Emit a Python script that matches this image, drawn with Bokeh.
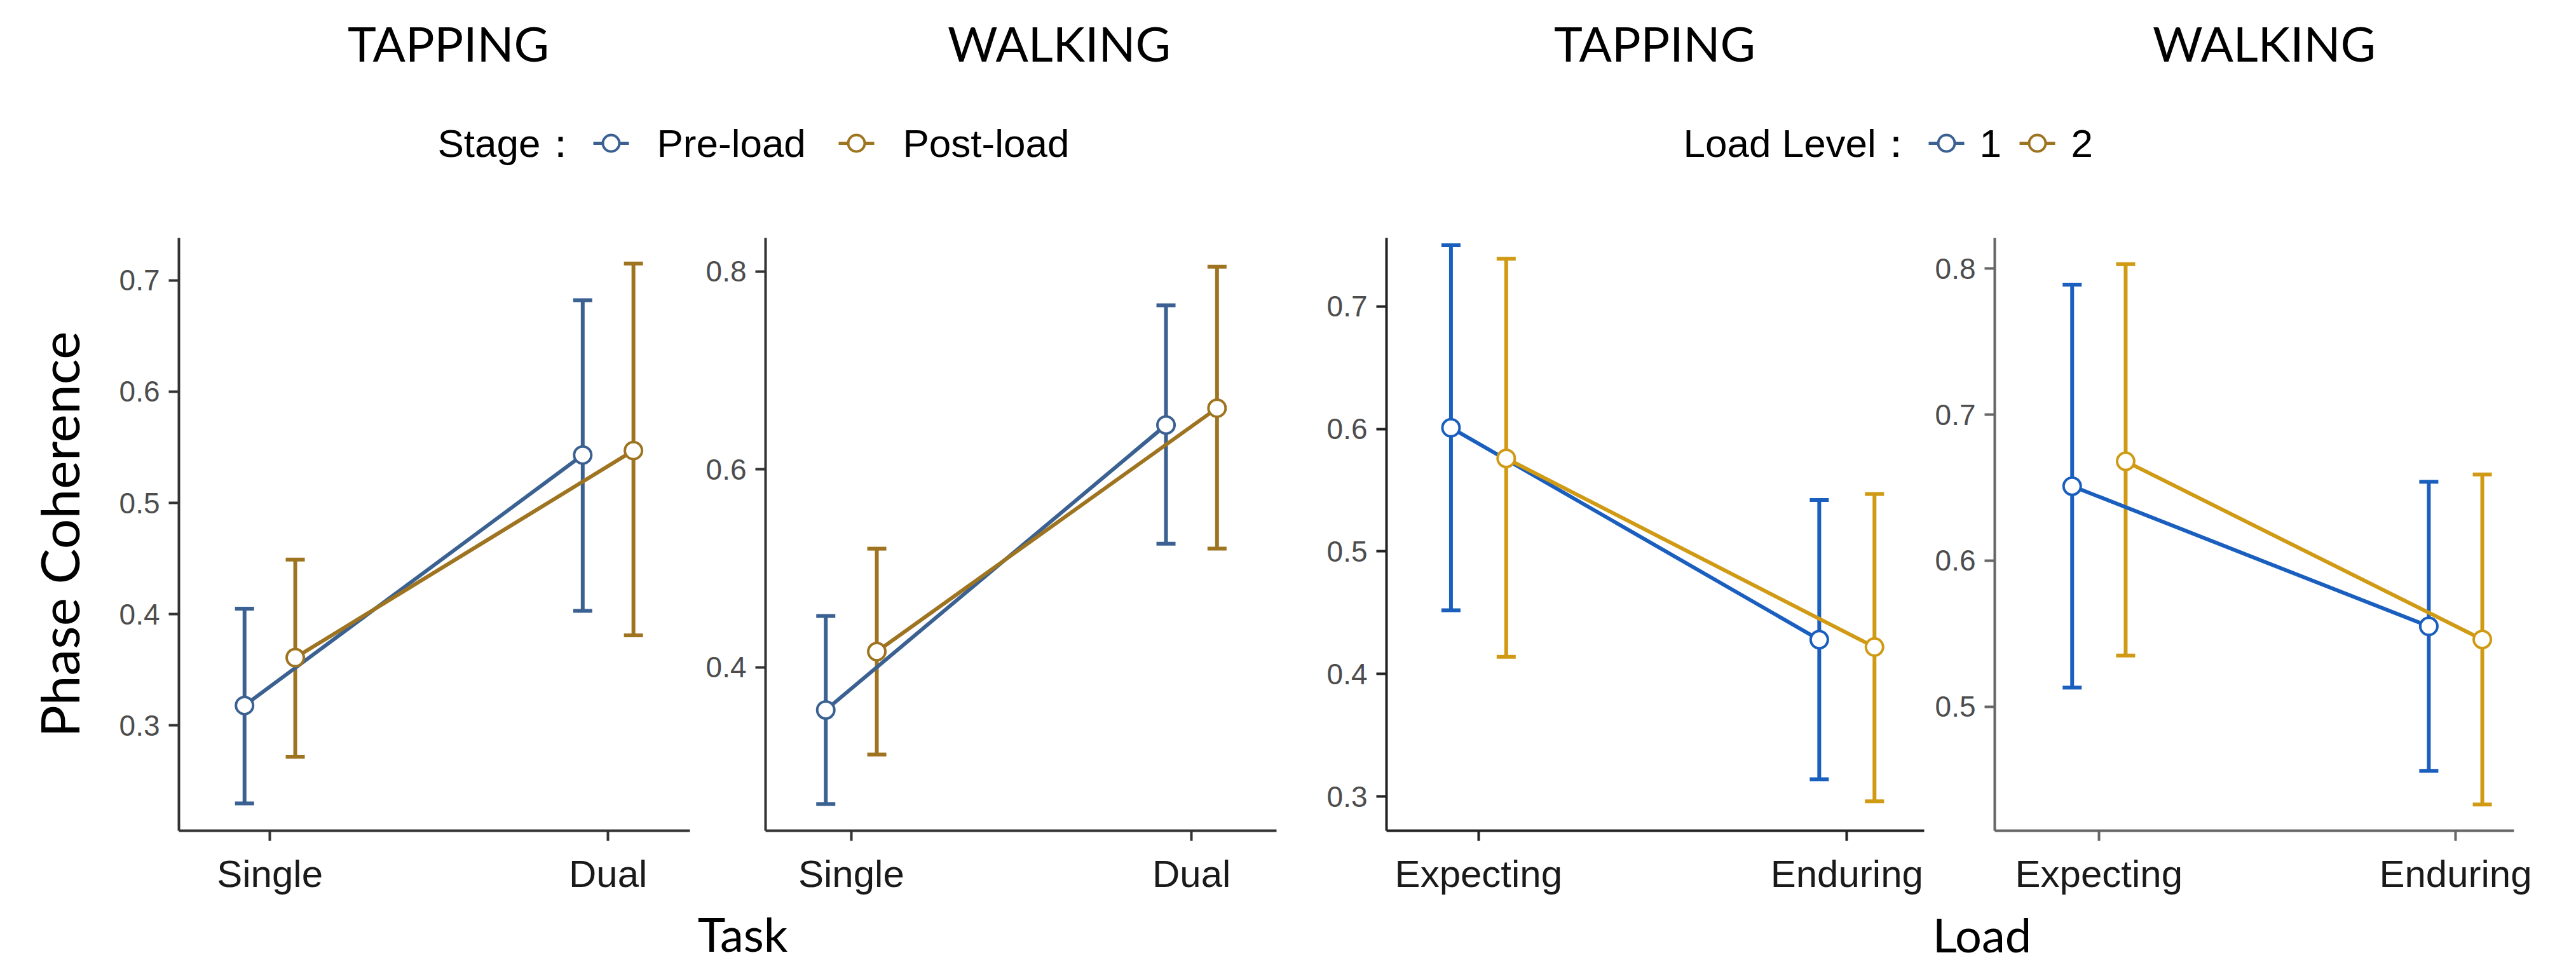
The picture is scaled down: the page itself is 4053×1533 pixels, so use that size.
from bokeh.plotting import figure
from bokeh.models import Range1d, FixedTicker, Whisker, ColumnDataSource, TeeHead, PrintfTickFormatter
from bokeh.layouts import column, row
from bokeh.embed import file_html
from bokeh.resources import INLINE
from bokeh.core.properties import value

# ---------------- data ----------------
panel_titles = ["TAPPING", "WALKING", "TAPPING", "WALKING"]
task_levels = ["Single", "Dual"]
load_levels = ["Expecting", "Enduring"]
stage_names = ["Pre-load", "Post-load"]
load_level_names = ["1", "2"]
axis_titles = ["Task", "Load"]

# Panel 1: TAPPING by Task
tap_task_pre_mean = [0.318, 0.543]
tap_task_pre_low = [0.230, 0.403]
tap_task_pre_high = [0.405, 0.682]
tap_task_post_mean = [0.361, 0.547]
tap_task_post_low = [0.272, 0.381]
tap_task_post_high = [0.449, 0.715]

# Panel 2: WALKING by Task
walk_task_pre_mean = [0.357, 0.645]
walk_task_pre_low = [0.262, 0.525]
walk_task_pre_high = [0.452, 0.766]
walk_task_post_mean = [0.416, 0.662]
walk_task_post_low = [0.312, 0.520]
walk_task_post_high = [0.520, 0.805]

# Panel 3: TAPPING by Load
tap_load_l1_mean = [0.601, 0.428]
tap_load_l1_low = [0.452, 0.314]
tap_load_l1_high = [0.750, 0.542]
tap_load_l2_mean = [0.576, 0.422]
tap_load_l2_low = [0.414, 0.296]
tap_load_l2_high = [0.739, 0.547]

# Panel 4: WALKING by Load
walk_load_l1_mean = [0.651, 0.555]
walk_load_l1_low = [0.513, 0.456]
walk_load_l1_high = [0.789, 0.654]
walk_load_l2_mean = [0.668, 0.546]
walk_load_l2_low = [0.535, 0.433]
walk_load_l2_high = [0.803, 0.659]

ticks_p1 = [0.3, 0.4, 0.5, 0.6, 0.7]
ticks_p2 = [0.4, 0.6, 0.8]
ticks_p3 = [0.3, 0.4, 0.5, 0.6, 0.7]
ticks_p4 = [0.5, 0.6, 0.7, 0.8]

# ---------------- styles ----------------
MUTED = ["#3A6191", "#9E7420"]
BRIGHT = ["#1A5FBE", "#D09A14"]
DODGE = [-0.075, 0.075]
TOP_H = 320
ROW_H = 1092
BOT_H = 105
TITLE_FONT = "Lato"
TICK_FONT = "Liberation Sans"


def make_panel(width, mb_left, mb_right, cats, series, colors, xr, yr, yticks,
               axis_color, ylabel=None):
    p = figure(width=width, height=ROW_H, x_range=Range1d(*xr), y_range=Range1d(*yr),
               toolbar_location=None, output_backend="svg",
               min_border_left=mb_left, min_border_right=mb_right,
               min_border_top=54, min_border_bottom=105)
    p.grid.visible = False
    p.outline_line_color = None
    for (mean, lo, hi), col, off in zip(series, colors, DODGE):
        xs = [i + 1 + off for i in range(len(cats))]
        src = ColumnDataSource(dict(x=xs, y=mean, lo=lo, hi=hi))
        p.add_layout(Whisker(source=src, base="x", lower="lo", upper="hi",
                             line_color=col, line_width=6,
                             upper_head=TeeHead(size=30, line_color=col, line_width=6),
                             lower_head=TeeHead(size=30, line_color=col, line_width=6)))
        p.line("x", "y", source=src, line_color=col, line_width=6)
        p.scatter("x", "y", source=src, size=27, fill_color="white",
                  line_color=col, line_width=4)
    p.xaxis.ticker = FixedTicker(ticks=[i + 1 for i in range(len(cats))])
    p.xaxis.major_label_overrides = {i + 1: c for i, c in enumerate(cats)}
    p.yaxis.ticker = FixedTicker(ticks=yticks)
    p.yaxis.formatter = PrintfTickFormatter(format="%.1f")
    p.axis.axis_line_color = axis_color
    p.axis.axis_line_width = 4
    p.axis.major_tick_line_color = axis_color
    p.axis.major_tick_line_width = 4
    p.axis.major_tick_out = 16
    p.axis.major_tick_in = 0
    p.axis.minor_tick_out = 0
    p.axis.minor_tick_in = 0
    p.yaxis.major_label_text_font = TICK_FONT
    p.yaxis.major_label_text_font_size = "46px"
    p.yaxis.major_label_text_color = "#4D4D4D"
    p.yaxis.major_label_standoff = 14
    p.xaxis.major_label_text_font = TICK_FONT
    p.xaxis.major_label_text_font_size = "60px"
    p.xaxis.major_label_text_color = "#1A1A1A"
    p.xaxis.major_label_standoff = 18
    if ylabel:
        p.yaxis.axis_label = ylabel
        p.yaxis.axis_label_text_font = TITLE_FONT
        p.yaxis.axis_label_text_font_size = "84px"
        p.yaxis.axis_label_text_font_style = "normal"
        p.yaxis.axis_label_text_color = "black"
        p.yaxis.axis_label_standoff = 42
    return p


p1 = make_panel(1097, 281, 12, task_levels,
                [(tap_task_pre_mean, tap_task_pre_low, tap_task_pre_high),
                 (tap_task_post_mean, tap_task_post_low, tap_task_post_high)],
                MUTED, (0.731, 2.242), (0.2055, 0.738), ticks_p1, "#333333",
                ylabel="Phase Coherence")
p2 = make_panel(945, 107, 34, task_levels,
                [(walk_task_pre_mean, walk_task_pre_low, walk_task_pre_high),
                 (walk_task_post_mean, walk_task_post_low, walk_task_post_high)],
                MUTED, (0.748, 2.25), (0.235, 0.834), ticks_p2, "#333333")
p3 = make_panel(995, 139, 10, load_levels,
                [(tap_load_l1_mean, tap_load_l1_low, tap_load_l1_high),
                 (tap_load_l2_mean, tap_load_l2_low, tap_load_l2_high)],
                BRIGHT, (0.75, 2.21), (0.272, 0.756), ticks_p3, "#222222")
p4 = make_panel(1000, 101, 82, load_levels,
                [(walk_load_l1_mean, walk_load_l1_low, walk_load_l1_high),
                 (walk_load_l2_mean, walk_load_l2_low, walk_load_l2_high)],
                BRIGHT, (0.708, 2.164), (0.415, 0.821), ticks_p4, "#666666")

W = 1097 + 945 + 995 + 1000

# ---------------- header: titles and legends ----------------
top = figure(width=W, height=TOP_H, x_range=Range1d(8, 8 + W),
             y_range=Range1d(8 + TOP_H, 8),
             toolbar_location=None, output_backend="svg", min_border=0,
             x_axis_location=None, y_axis_location=None)
top.grid.visible = False
top.outline_line_color = None

title_x = [713, 1674, 2611, 3570]
top.text(x=title_x, y=[75] * 4, text=panel_titles, text_align="center",
         text_baseline="middle", text_font=value(TITLE_FONT),
         text_font_size=value("76px"), text_color="black")


def draw_legend(fig, label, label_x, names, colors, marker_x, text_x, y):
    n = len(names)
    fig.text(x=[label_x], y=[y], text=[label], text_align="left", text_baseline="middle",
             text_font=value(TICK_FONT), text_font_size=value("62px"), text_color="black")
    fig.segment(x0=[m - 28 for m in marker_x], y0=[y] * n, x1=[m + 28 for m in marker_x],
                y1=[y] * n, line_color=colors, line_width=5)
    fig.scatter(x=marker_x, y=[y] * n, size=26, fill_color="white", line_color=colors,
                line_width=4)
    fig.text(x=text_x, y=[y] * n, text=names, text_align="left", text_baseline="middle",
             text_font=value(TICK_FONT), text_font_size=value("62px"), text_color="black")


draw_legend(top, "Stage\uff1a", 696, stage_names, MUTED, [969, 1355], [1041, 1428], 233)
draw_legend(top, "Load Level\uff1a", 2656, load_level_names, MUTED, [3070, 3213],
            [3122, 3266], 233)

# ---------------- footer: shared axis titles ----------------
bot_top = 8 + TOP_H + ROW_H
bottom = figure(width=W, height=BOT_H, x_range=Range1d(8, 8 + W),
                y_range=Range1d(bot_top + BOT_H, bot_top),
                toolbar_location=None, output_backend="svg", min_border=0,
                x_axis_location=None, y_axis_location=None)
bottom.grid.visible = False
bottom.outline_line_color = None
bottom.text(x=[1176, 3126], y=[1477, 1478], text=axis_titles, text_align="center",
            text_baseline="middle", text_font=value(TITLE_FONT),
            text_font_size=value("74px"), text_color="black")

layout = column(top, row(p1, p2, p3, p4), bottom)

open("out.html", "w").write(file_html(layout, INLINE))
